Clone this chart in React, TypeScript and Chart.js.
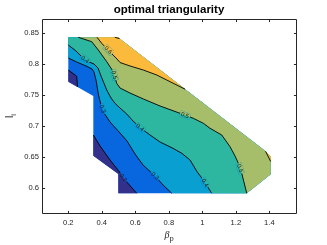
import React, { useEffect, useRef } from "react";
import { Chart, registerables } from "chart.js";
Chart.register(...registerables);

const titleText = "optimal triangularity";
const xTicks = [0.2, 0.4, 0.6, 0.8, 1, 1.2, 1.4];
const xTickLabels = ["0.2", "0.4", "0.6", "0.8", "1", "1.2", "1.4"];
const yTicks = [0.6, 0.65, 0.7, 0.75, 0.8, 0.85];
const yTickLabels = ["0.6", "0.65", "0.7", "0.75", "0.8", "0.85"];
const xRange = [0.043, 1.559];
const yRange = [0.5592, 0.8721];

const levels = [0.2, 0.3, 0.4, 0.5, 0.6, 0.7];
const bandColors = ["#33308c", "#0866df", "#0a9fd1", "#2db7a0", "#a6be6a", "#fcba3c", "#f6e51e"];

// outline of the region where the data exist (A,B,C,C2,D,G,H,I,J,K,L)
const domainX = [0.2, 0.4955, 1.3773, 1.408, 1.408, 1.2651, 0.4985, 0.4985, 0.3493, 0.3493, 0.2];
const domainY = [0.8426, 0.8426, 0.6587, 0.65, 0.6216, 0.591, 0.591, 0.6221, 0.6516, 0.7479, 0.771];

// contour lines
const c02aX = [0.2, 0.2501, 0.2549];
const c02aY = [0.7898, 0.7798, 0.7626];
const c02bX = [0.3493, 0.3893, 0.449, 0.5057, 0.5385, 0.6084];
const c02bY = [0.685, 0.6673, 0.6447, 0.6253, 0.6124, 0.591];
const c03X = [0.2, 0.2501, 0.3057, 0.3415, 0.3534, 0.3654, 0.3803, 0.3952, 0.4131, 0.449, 0.5087, 0.5504, 0.5982, 0.646, 0.7176, 0.7654, 0.8173];
const c03Y = [0.8092, 0.8027, 0.7963, 0.7915, 0.7866, 0.7737, 0.7495, 0.7334, 0.7205, 0.706, 0.6882, 0.6753, 0.6544, 0.6366, 0.6189, 0.6044, 0.591];
const c04X = [0.2, 0.246, 0.2818, 0.3176, 0.3534, 0.3773, 0.3952, 0.4293, 0.4549, 0.4788, 0.5087, 0.5487, 0.5863, 0.6281, 0.6878, 0.7475, 0.8251, 0.8788, 0.9266, 0.9684, 1.006, 1.0561];
const c04Y = [0.8302, 0.8205, 0.8108, 0.8035, 0.7995, 0.7931, 0.7802, 0.7576, 0.7447, 0.7361, 0.7285, 0.7189, 0.7076, 0.6971, 0.685, 0.6737, 0.6635, 0.6552, 0.6447, 0.6258, 0.6124, 0.591];
const c05X = [0.2597, 0.3397, 0.3791, 0.4293, 0.4687, 0.489, 0.5087, 0.5684, 0.6478, 0.7475, 0.8669, 0.9463, 1.006, 1.046, 1.1158, 1.1654, 1.1952, 1.2149, 1.2352, 1.2651];
const c05Y = [0.8426, 0.8355, 0.8221, 0.8032, 0.7871, 0.7684, 0.7608, 0.7527, 0.7431, 0.7318, 0.72, 0.7119, 0.7039, 0.6958, 0.685, 0.6661, 0.6511, 0.6394, 0.6232, 0.591];
const c06X = [0.3713, 0.3994, 0.437, 0.4669, 0.4907, 0.5087, 0.5684, 0.6478, 0.7278, 0.7875, 0.8967];
const c06Y = [0.8426, 0.8329, 0.8221, 0.814, 0.8076, 0.8019, 0.7963, 0.7898, 0.7818, 0.7737, 0.7589];
const c06bX = [1.3773, 1.408];
const c06bY = [0.6587, 0.6423];
const c07X = [0.4776, 0.5057];
const c07Y = [0.8426, 0.8405];

// contour labels
const labelText = ["0.6", "0.4", "0.5", "0.3", "0.4", "0.5", "0.2", "0.3", "0.4", "0.5"];
const labelX = [0.4388, 0.2997, 0.4746, 0.4042, 0.628, 0.8967, 0.5284, 0.7176, 1.0161, 1.2251];
const labelY = [0.8221, 0.807, 0.7817, 0.7269, 0.6971, 0.717, 0.6164, 0.6189, 0.6081, 0.6313];
const labelAngle = [45, 37, 74, 69, 40, 21, 52, 45, 58, 71];

type P = { x: number; y: number };
const pts = (xs: number[], ys: number[]): P[] => xs.map((x, i) => ({ x, y: ys[i] }));
const dom = (idx: number[]): P[] => idx.map((i) => ({ x: domainX[i], y: domainY[i] }));
// domain vertex indices
const A = 0, B = 1, C = 2, C2 = 3, D = 4, G = 5, H = 6, I = 7, J = 8, K = 9, L = 10;

const FONT = "'Liberation Sans', Arial, Helvetica, sans-serif";
const AXIS_COLOR = "#262626";
const N_FILLS = 9;

const boxPlugin = {
  id: "matlabBox",
  afterDatasetsDraw(chart: any) {
    const { ctx, chartArea: a, scales } = chart;
    const xs = scales.x;
    const ys = scales.y;
    ctx.save();
    // contour labels: break the line under each label, then write it
    ctx.font = `6px ${FONT}`;
    ctx.textAlign = "center";
    ctx.textBaseline = "middle";
    labelText.forEach((t, i) => {
      const px = xs.getPixelForValue(labelX[i]);
      const py = ys.getPixelForValue(labelY[i]);
      const w = ctx.measureText(t).width + 2;
      ctx.save();
      ctx.translate(px, py);
      ctx.rotate((labelAngle[i] * Math.PI) / 180);
      ctx.beginPath();
      ctx.rect(-w / 2, -3, w, 6);
      ctx.clip();
      ctx.rotate((-labelAngle[i] * Math.PI) / 180);
      ctx.translate(-px, -py);
      for (let d = 0; d < N_FILLS; d++) {
        const meta = chart.getDatasetMeta(d);
        const ds = chart.data.datasets[d];
        if (!meta.data.length) continue;
        ctx.beginPath();
        meta.data.forEach((p: any, k: number) => (k ? ctx.lineTo(p.x, p.y) : ctx.moveTo(p.x, p.y)));
        ctx.closePath();
        ctx.fillStyle = ds.backgroundColor;
        ctx.fill();
      }
      ctx.restore();
      ctx.save();
      ctx.translate(px, py);
      ctx.rotate((labelAngle[i] * Math.PI) / 180);
      ctx.fillStyle = "#1a1a1a";
      ctx.fillText(t, 0, 0.3);
      ctx.restore();
    });
    // box
    const l = Math.floor(a.left) + 0.5;
    const r = Math.floor(a.right) + 0.5;
    const tp = Math.floor(a.top) + 0.5;
    const b = Math.floor(a.bottom) + 0.5;
    ctx.strokeStyle = AXIS_COLOR;
    ctx.lineWidth = 1;
    ctx.beginPath();
    ctx.rect(l, tp, r - l, b - tp);
    const tl = 2.6;
    xTicks.forEach((v) => {
      const px = Math.round(xs.getPixelForValue(v)) + 0.5;
      ctx.moveTo(px, b);
      ctx.lineTo(px, b - tl);
      ctx.moveTo(px, tp);
      ctx.lineTo(px, tp + tl);
    });
    yTicks.forEach((v) => {
      const py = Math.round(ys.getPixelForValue(v)) + 0.5;
      ctx.moveTo(l, py);
      ctx.lineTo(l + tl, py);
      ctx.moveTo(r, py);
      ctx.lineTo(r - tl, py);
    });
    ctx.stroke();
    ctx.restore();
  },
};

export default function App() {
  const ref = useRef<HTMLCanvasElement | null>(null);
  useEffect(() => {
    if (!ref.current) return;
    const fillDs = (data: P[], color: string, order: number) => ({
      data,
      fill: "shape",
      backgroundColor: color,
      borderColor: "rgba(0,0,0,0)",
      borderWidth: 0,
      pointRadius: 0,
      tension: 0,
      order,
    });
    const lineDs = (data: P[]) => ({
      data,
      fill: false,
      borderColor: "#000000",
      borderWidth: 0.9,
      pointRadius: 0,
      tension: 0,
      order: 0,
    });
    const datasets: any[] = [
      fillDs(dom([A, B, C, C2, D, G, H, I, J, K, L]), bandColors[1], 10),
      fillDs([...pts(c02aX, c02aY), ...dom([L])], bandColors[0], 9),
      fillDs([...pts(c02bX, c02bY), ...dom([H, I, J])], bandColors[0], 9),
      fillDs([...pts(c03X, c03Y), ...dom([G, D, C2, C, B, A])], bandColors[2], 8),
      fillDs([...pts(c04X, c04Y), ...dom([G, D, C2, C, B, A])], bandColors[3], 7),
      fillDs([...pts(c05X, c05Y), ...dom([D, C2, C, B])], bandColors[4], 6),
      fillDs([...pts(c06X, c06Y), ...dom([B])], bandColors[5], 5),
      fillDs([...pts(c06bX, c06bY), ...dom([C2])], bandColors[5], 5),
      fillDs([...pts(c07X, c07Y), ...dom([B])], bandColors[6], 4),
      lineDs(pts(c02aX, c02aY)),
      lineDs(pts(c02bX, c02bY)),
      lineDs(pts(c03X, c03Y)),
      lineDs(pts(c04X, c04Y)),
      lineDs(pts(c05X, c05Y)),
      lineDs(pts(c06X, c06Y)),
      lineDs(pts(c06bX, c06bY)),
      lineDs(pts(c07X, c07Y)),
    ];
    const chart = new Chart(ref.current, {
      type: "line",
      data: { datasets },
      options: {
        animation: false,
        responsive: false,
        devicePixelRatio: 1,
        events: [],
        layout: { padding: { left: 0, right: 31, top: 0, bottom: 0 } },
        plugins: {
          legend: { display: false },
          tooltip: { enabled: false },
          title: {
            display: true,
            text: titleText,
            fullSize: false,
            color: "#000000",
            font: { family: FONT, size: 11.5, weight: "bold", lineHeight: 1.2 },
            padding: { top: 2.5, bottom: 2.7 },
          },
        },
        scales: {
          x: {
            type: "linear",
            min: xRange[0],
            max: xRange[1],
            grid: { display: false, drawTicks: false },
            border: { display: false },
            ticks: {
              color: AXIS_COLOR,
              font: { family: FONT, size: 7.6 },
              padding: 5,
              maxRotation: 0,
              autoSkip: false,
              callback: (_v: any, i: number) => xTickLabels[i],
            },
            afterBuildTicks: (s: any) => {
              s.ticks = xTicks.map((v) => ({ value: v }));
            },
            afterFit: (s: any) => {
              s.height = 32;
            },
          },
          y: {
            type: "linear",
            min: yRange[0],
            max: yRange[1],
            grid: { display: false, drawTicks: false },
            border: { display: false },
            ticks: {
              color: AXIS_COLOR,
              font: { family: FONT, size: 7.6 },
              padding: 3,
              autoSkip: false,
              callback: (_v: any, i: number) => yTickLabels[i],
            },
            afterBuildTicks: (s: any) => {
              s.ticks = yTicks.map((v) => ({ value: v }));
            },
            afterFit: (s: any) => {
              s.width = 42;
            },
          },
        },
      } as any,
      plugins: [boxPlugin],
    });
    return () => chart.destroy();
  }, []);

  return (
    <div style={{ position: "fixed", left: 0, top: 0, width: 327, height: 245, background: "#fff" }}>
      <canvas ref={ref} width={327} height={245} style={{ position: "absolute", left: 0, top: 0 }} />
      <div
        style={{
          position: "absolute",
          left: 119,
          top: 230.3,
          width: 100,
          textAlign: "center",
          lineHeight: "10px",
          fontSize: 10,
          fontFamily: "'Liberation Serif', 'DejaVu Serif', serif",
          fontStyle: "italic",
          color: AXIS_COLOR,
          whiteSpace: "nowrap",
        }}
      >
        β
        <span style={{ fontFamily: FONT, fontStyle: "normal", fontSize: 7.5, position: "relative", top: 3 }}>p</span>
      </div>
      <div
        style={{
          position: "absolute",
          left: -6,
          top: 110,
          width: 30,
          height: 12,
          textAlign: "center",
          lineHeight: "12px",
          fontSize: 10.5,
          fontFamily: FONT,
          color: AXIS_COLOR,
          transform: "rotate(-90deg)",
          transformOrigin: "50% 50%",
          whiteSpace: "nowrap",
        }}
      >
        l
        <span style={{ fontSize: 7.5, position: "relative", top: 3 }}>i</span>
      </div>
    </div>
  );
}
